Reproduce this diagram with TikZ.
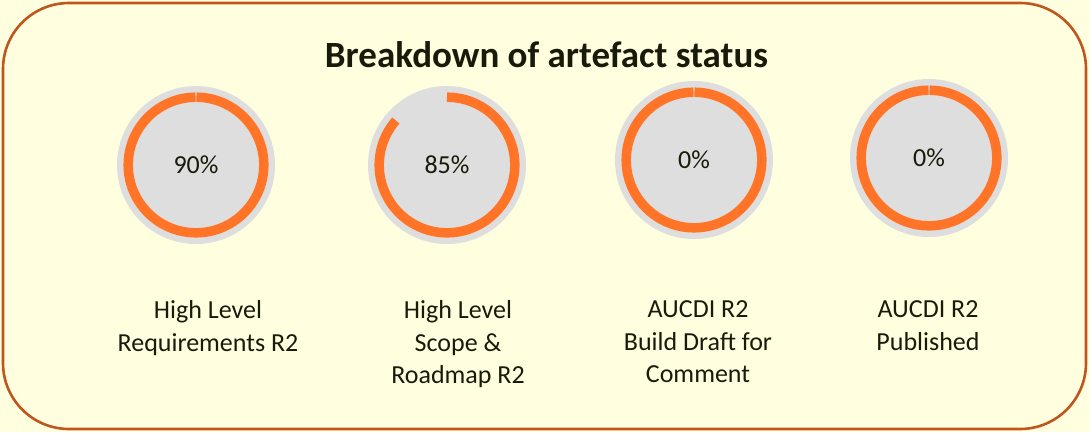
\documentclass[tikz,border=0pt]{standalone}
\usepackage{fontspec}
\setmainfont{Carlito}

\definecolor{panelfill}{HTML}{FFFFE0}
\definecolor{paneledge}{HTML}{C0561E}
\definecolor{dialgrey}{HTML}{DEDEDE}
\definecolor{dialorange}{HTML}{FF7427}
\definecolor{inktext}{HTML}{1A1A0A}

\begin{document}
\begin{tikzpicture}[x=1pt,y=-1pt]
\tikzstyle{every node}=[text=inktext]
\tikzstyle{dial}=[circle, fill=dialgrey, minimum size=158pt, inner sep=0pt,
  font=\fontsize{26}{30}\selectfont]
\tikzstyle{ring}=[draw=dialorange, line width=9.5pt]
\tikzstyle{caption}=[align=center, anchor=north, inner sep=0pt,
  font=\fontsize{26}{32.5}\selectfont]

\useasboundingbox[fill=panelfill] (0,0) rectangle (1089,432);
\draw[paneledge, line width=2.6pt, rounded corners=66pt] (3,3) rectangle (1086,429);

\node[font=\fontsize{37}{42}\selectfont\bfseries, anchor=base] (title) at (546.5,67) {Breakdown of artefact status};

% dials (y runs downwards, so -90 is the top)
\node[dial] (hlr) at (196,165) {90\%};
\node[dial] (scope) at (447,165) {85\%};
\node[dial] (draft) at (694,160) {0\%};
\node[dial] (pub) at (929,158) {0\%};

\draw[ring] (hlr.center) ++(-89.6:67.8) arc[start angle=-89.6, end angle=269.6, radius=67.8];
\draw[ring] (scope.center) ++(-90:67.8) arc[start angle=-90, end angle=221, radius=67.8];
\draw[ring] (draft.center) ++(-89.6:67.8) arc[start angle=-89.6, end angle=269.6, radius=67.8];
\draw[ring] (pub.center) ++(-89.6:67.8) arc[start angle=-89.6, end angle=269.6, radius=67.8];

% captions
\node[caption] (hlrtext) at (208,300.5) {High Level\\Requirements R2};
\node[caption] (scopetext) at (458,300.5) {High Level\\Scope \&\\Roadmap R2};
\node[caption] (drafttext) at (698,300.5) {AUCDI R2\\Build Draft for\\Comment};
\node[caption] (pubtext) at (928,300.5) {AUCDI R2\\Published};

\end{tikzpicture}
\end{document}
